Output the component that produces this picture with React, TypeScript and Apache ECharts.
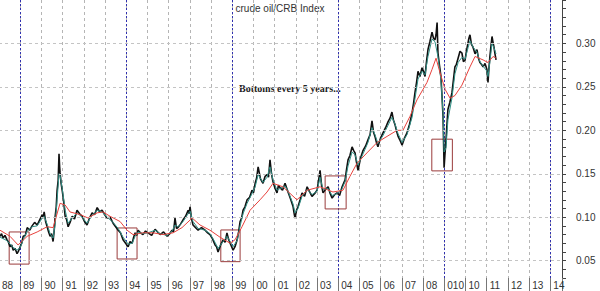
import React, { useEffect, useRef } from 'react';
import * as echarts from 'echarts';

const chartTitle = 'crude oil/CRB Index';
const annotation = 'Bottoms every 5 years...';

const yearTickLabels = [
  '88', '89', '90', '91', '92', '93', '94', '95', '96', '97', '98', '99', '00',
  '01', '02', '03', '04', '05', '06', '07', '08', '010', '10', '11', '12', '13', '14',
];
const cycleStartYear = 1984; // cycle lines every 5 years from here: 89, 94, 99, 04, 09, 14
const cycleStep = 5;
const gridValues = [0.05, 0.1, 0.15, 0.2, 0.25, 0.3];

const bottomBoxes = [
  [[1988.48, 0.083], [1989.42, 0.046]],
  [[1993.57, 0.0876], [1994.51, 0.0519]],
  [[1998.46, 0.0853], [1999.37, 0.0488]],
  [[2003.38, 0.1475], [2004.37, 0.1095]],
  [[2008.41, 0.1898], [2009.38, 0.1533]],
];

const ratioWeekly = [
  [1988.05, 0.078], [1988.12, 0.081], [1988.19, 0.076], [1988.28, 0.079], [1988.38, 0.074],
  [1988.45, 0.071], [1988.52, 0.066], [1988.6, 0.068], [1988.67, 0.062], [1988.76, 0.064],
  [1988.85, 0.058], [1988.92, 0.061], [1989.0, 0.066], [1989.07, 0.07], [1989.14, 0.078],
  [1989.24, 0.079], [1989.33, 0.088], [1989.45, 0.085], [1989.56, 0.09], [1989.68, 0.094],
  [1989.8, 0.091], [1989.92, 0.097], [1990.04, 0.103], [1990.08, 0.099], [1990.13, 0.106],
  [1990.2, 0.095], [1990.27, 0.089], [1990.34, 0.083], [1990.41, 0.078], [1990.48, 0.081],
  [1990.55, 0.072], [1990.6, 0.084], [1990.65, 0.101], [1990.7, 0.112], [1990.74, 0.131],
  [1990.79, 0.142], [1990.83, 0.173], [1990.86, 0.158], [1990.88, 0.151], [1990.93, 0.139],
  [1990.98, 0.131], [1991.05, 0.118], [1991.12, 0.101], [1991.19, 0.097], [1991.26, 0.089],
  [1991.35, 0.094], [1991.45, 0.101], [1991.56, 0.098], [1991.68, 0.108], [1991.8, 0.104],
  [1991.92, 0.101], [1992.03, 0.095], [1992.15, 0.091], [1992.27, 0.099], [1992.39, 0.105],
  [1992.51, 0.103], [1992.63, 0.111], [1992.75, 0.106], [1992.86, 0.108], [1992.98, 0.103],
  [1993.1, 0.099], [1993.24, 0.1], [1993.38, 0.093], [1993.5, 0.089], [1993.62, 0.085],
  [1993.73, 0.082], [1993.85, 0.074], [1993.97, 0.07], [1994.09, 0.066], [1994.18, 0.072],
  [1994.28, 0.07], [1994.35, 0.077], [1994.42, 0.082], [1994.49, 0.079], [1994.56, 0.085],
  [1994.67, 0.082], [1994.79, 0.08], [1994.91, 0.084], [1995.03, 0.082], [1995.2, 0.079],
  [1995.36, 0.086], [1995.48, 0.083], [1995.6, 0.08], [1995.76, 0.083], [1995.93, 0.078],
  [1996.05, 0.081], [1996.16, 0.085], [1996.23, 0.083], [1996.3, 0.099], [1996.37, 0.087],
  [1996.44, 0.088], [1996.56, 0.092], [1996.68, 0.097], [1996.8, 0.101], [1996.92, 0.108],
  [1996.96, 0.104], [1997.01, 0.112], [1997.08, 0.098], [1997.15, 0.091], [1997.27, 0.088],
  [1997.39, 0.085], [1997.55, 0.088], [1997.72, 0.085], [1997.84, 0.082], [1997.95, 0.08],
  [1998.07, 0.075], [1998.19, 0.068], [1998.26, 0.066], [1998.33, 0.06], [1998.45, 0.068],
  [1998.57, 0.074], [1998.66, 0.071], [1998.75, 0.082], [1998.82, 0.075], [1998.9, 0.07],
  [1998.97, 0.066], [1999.04, 0.062], [1999.13, 0.066], [1999.23, 0.074], [1999.3, 0.083],
  [1999.37, 0.095], [1999.44, 0.099], [1999.51, 0.108], [1999.6, 0.112], [1999.7, 0.12],
  [1999.82, 0.123], [1999.93, 0.131], [2000.0, 0.128], [2000.08, 0.139], [2000.15, 0.145],
  [2000.22, 0.158], [2000.33, 0.144], [2000.45, 0.139], [2000.55, 0.147], [2000.64, 0.149],
  [2000.71, 0.146], [2000.78, 0.166], [2000.85, 0.15], [2000.92, 0.141], [2001.02, 0.133],
  [2001.11, 0.128], [2001.18, 0.137], [2001.25, 0.134], [2001.37, 0.131], [2001.49, 0.139],
  [2001.56, 0.134], [2001.63, 0.129], [2001.75, 0.121], [2001.87, 0.112], [2001.92, 0.104],
  [2001.96, 0.099], [2002.03, 0.108], [2002.1, 0.112], [2002.2, 0.12], [2002.29, 0.128],
  [2002.41, 0.124], [2002.53, 0.135], [2002.65, 0.129], [2002.76, 0.124], [2002.88, 0.127],
  [2003.0, 0.131], [2003.07, 0.142], [2003.14, 0.154], [2003.21, 0.137], [2003.28, 0.128],
  [2003.4, 0.132], [2003.52, 0.135], [2003.62, 0.127], [2003.71, 0.122], [2003.83, 0.126],
  [2003.94, 0.128], [2004.06, 0.125], [2004.18, 0.135], [2004.25, 0.139], [2004.32, 0.143],
  [2004.39, 0.155], [2004.46, 0.166], [2004.55, 0.171], [2004.65, 0.181], [2004.72, 0.177],
  [2004.79, 0.174], [2004.86, 0.163], [2004.93, 0.154], [2005.05, 0.168], [2005.17, 0.177],
  [2005.29, 0.182], [2005.4, 0.189], [2005.5, 0.195], [2005.59, 0.211], [2005.66, 0.198],
  [2005.73, 0.193], [2005.8, 0.186], [2005.87, 0.181], [2005.99, 0.191], [2006.11, 0.197],
  [2006.23, 0.203], [2006.35, 0.21], [2006.44, 0.214], [2006.53, 0.221], [2006.6, 0.212],
  [2006.68, 0.206], [2006.75, 0.199], [2006.82, 0.193], [2006.92, 0.188], [2007.01, 0.183],
  [2007.12, 0.191], [2007.24, 0.197], [2007.36, 0.207], [2007.48, 0.22], [2007.55, 0.231],
  [2007.62, 0.244], [2007.69, 0.255], [2007.76, 0.268], [2007.85, 0.262], [2007.95, 0.272],
  [2008.02, 0.268], [2008.09, 0.262], [2008.16, 0.279], [2008.23, 0.293], [2008.32, 0.302],
  [2008.42, 0.313], [2008.49, 0.306], [2008.56, 0.304], [2008.61, 0.31], [2008.66, 0.324],
  [2008.7, 0.289], [2008.77, 0.275], [2008.84, 0.262], [2008.89, 0.24], [2008.94, 0.216],
  [2008.99, 0.157], [2009.03, 0.172], [2009.08, 0.189], [2009.12, 0.205], [2009.17, 0.224],
  [2009.26, 0.232], [2009.36, 0.243], [2009.43, 0.258], [2009.5, 0.273], [2009.57, 0.276],
  [2009.65, 0.283], [2009.74, 0.291], [2009.83, 0.289], [2009.9, 0.279], [2009.98, 0.281],
  [2010.05, 0.292], [2010.12, 0.301], [2010.16, 0.306], [2010.21, 0.31], [2010.28, 0.299],
  [2010.35, 0.296], [2010.45, 0.288], [2010.54, 0.293], [2010.61, 0.283], [2010.68, 0.278],
  [2010.75, 0.276], [2010.83, 0.273], [2010.92, 0.277], [2011.01, 0.27], [2011.06, 0.255],
  [2011.1, 0.27], [2011.15, 0.285], [2011.2, 0.297], [2011.25, 0.308], [2011.3, 0.301],
  [2011.34, 0.296], [2011.39, 0.288], [2011.44, 0.281],
];

const ratioShortAvg = [
  [1988.05, 0.077], [1988.38, 0.073], [1988.67, 0.065], [1988.85, 0.062], [1989.0, 0.065],
  [1989.14, 0.074], [1989.33, 0.084], [1989.56, 0.089], [1989.8, 0.09], [1990.04, 0.099],
  [1990.13, 0.101], [1990.27, 0.092], [1990.41, 0.081], [1990.55, 0.076], [1990.65, 0.092],
  [1990.74, 0.12], [1990.83, 0.15], [1990.88, 0.148], [1990.98, 0.133], [1991.12, 0.108],
  [1991.26, 0.093], [1991.45, 0.099], [1991.68, 0.105], [1991.92, 0.1], [1992.15, 0.093],
  [1992.39, 0.102], [1992.63, 0.108], [1992.86, 0.106], [1993.1, 0.1], [1993.38, 0.094],
  [1993.62, 0.087], [1993.85, 0.077], [1994.09, 0.069], [1994.28, 0.07], [1994.42, 0.078],
  [1994.56, 0.083], [1994.79, 0.081], [1995.03, 0.082], [1995.36, 0.085], [1995.6, 0.081],
  [1995.93, 0.079], [1996.16, 0.084], [1996.3, 0.091], [1996.44, 0.089], [1996.68, 0.095],
  [1996.92, 0.104], [1997.01, 0.107], [1997.15, 0.095], [1997.39, 0.087], [1997.72, 0.085],
  [1997.95, 0.081], [1998.19, 0.071], [1998.33, 0.064], [1998.57, 0.072], [1998.75, 0.078],
  [1998.9, 0.072], [1999.04, 0.066], [1999.23, 0.073], [1999.37, 0.09], [1999.51, 0.104],
  [1999.7, 0.116], [1999.93, 0.127], [2000.08, 0.135], [2000.22, 0.149], [2000.45, 0.14],
  [2000.64, 0.146], [2000.78, 0.158], [2000.92, 0.143], [2001.11, 0.131], [2001.25, 0.133],
  [2001.49, 0.136], [2001.63, 0.13], [2001.87, 0.115], [2001.96, 0.105], [2002.1, 0.11],
  [2002.29, 0.124], [2002.53, 0.132], [2002.76, 0.126], [2003.0, 0.13], [2003.14, 0.146],
  [2003.28, 0.132], [2003.52, 0.133], [2003.71, 0.125], [2003.94, 0.127], [2004.18, 0.133],
  [2004.32, 0.141], [2004.46, 0.159], [2004.65, 0.175], [2004.79, 0.172], [2004.93, 0.16],
  [2005.17, 0.173], [2005.4, 0.186], [2005.59, 0.203], [2005.73, 0.195], [2005.87, 0.185],
  [2006.11, 0.194], [2006.35, 0.206], [2006.53, 0.215], [2006.68, 0.207], [2006.82, 0.196],
  [2007.01, 0.186], [2007.24, 0.195], [2007.48, 0.215], [2007.62, 0.237], [2007.76, 0.259],
  [2007.95, 0.268], [2008.09, 0.264], [2008.23, 0.285], [2008.42, 0.305], [2008.56, 0.302],
  [2008.7, 0.285], [2008.84, 0.258], [2008.94, 0.22], [2008.99, 0.175], [2009.08, 0.18],
  [2009.17, 0.212], [2009.36, 0.237], [2009.5, 0.265], [2009.65, 0.278], [2009.83, 0.284],
  [2009.98, 0.282], [2010.12, 0.295], [2010.21, 0.303], [2010.35, 0.296], [2010.54, 0.29],
  [2010.68, 0.279], [2010.83, 0.274], [2011.01, 0.268], [2011.06, 0.262], [2011.15, 0.279],
  [2011.25, 0.3], [2011.34, 0.295], [2011.44, 0.288],
];

const ratioLongAvg = [
  [1988.05, 0.085], [1988.52, 0.078], [1988.9, 0.068], [1989.33, 0.078], [1989.8, 0.083],
  [1990.27, 0.089], [1990.55, 0.088], [1990.88, 0.116], [1991.12, 0.114], [1991.35, 0.106],
  [1991.83, 0.103], [1992.2, 0.099], [1992.63, 0.105], [1992.91, 0.106], [1993.24, 0.101],
  [1993.71, 0.095], [1994.04, 0.085], [1994.32, 0.08], [1994.79, 0.082], [1995.27, 0.082],
  [1995.74, 0.08], [1996.21, 0.082], [1996.63, 0.088], [1997.11, 0.099], [1997.48, 0.091],
  [1997.95, 0.085], [1998.42, 0.077], [1998.9, 0.07], [1999.13, 0.074], [1999.46, 0.089],
  [1999.84, 0.108], [2000.31, 0.12], [2000.64, 0.129], [2000.92, 0.139], [2001.39, 0.135],
  [2002.05, 0.12], [2002.53, 0.131], [2003.14, 0.135], [2003.75, 0.129], [2004.22, 0.131],
  [2004.55, 0.147], [2004.88, 0.162], [2005.35, 0.174], [2005.83, 0.186], [2006.3, 0.193],
  [2006.77, 0.2], [2007.05, 0.2], [2007.38, 0.216], [2007.71, 0.235], [2008.18, 0.255],
  [2008.42, 0.27], [2008.61, 0.283], [2008.8, 0.266], [2009.04, 0.247], [2009.27, 0.237],
  [2009.5, 0.24], [2009.83, 0.252], [2010.21, 0.273], [2010.45, 0.285], [2010.83, 0.281],
  [2011.06, 0.278], [2011.3, 0.285], [2011.44, 0.283],
];

const X_MIN = 1988;
const X_MAX = 2014.55;
const GRID_LEFT = -1;
const GRID_RIGHT = 38;
const CHART_W = 600;

export default function App() {
  const ref = useRef<HTMLDivElement>(null);

  useEffect(() => {
    if (!ref.current) return;
    const chart = echarts.init(ref.current, undefined, { renderer: 'svg' });
    const labelFont = { color: '#333', fontSize: 10, fontFamily: '"Liberation Sans", Arial, sans-serif' };
    const pxPerYear = (CHART_W - GRID_RIGHT - GRID_LEFT) / (X_MAX - X_MIN);
    const cycleGridLeft = GRID_LEFT - (X_MIN - cycleStartYear) * pxPerYear;

    chart.setOption({
      animation: false,
      backgroundColor: '#fff',
      grid: [
        {
          left: GRID_LEFT, right: GRID_RIGHT, top: 0, bottom: 13,
          containLabel: false, outerBoundsMode: 'none',
        },
        {
          left: cycleGridLeft, right: GRID_RIGHT, top: 0, bottom: 13,
          containLabel: false, outerBoundsMode: 'none',
        },
      ],
      xAxis: [
        {
          type: 'value',
          min: X_MIN,
          max: X_MAX,
          interval: 1,
          axisLine: { show: false },
          axisTick: { show: true, length: 13, lineStyle: { color: '#777' } },
          axisLabel: {
            ...labelFont,
            formatter: (v: number) => yearTickLabels[Math.round(v - 1988)] ?? '',
            align: 'left',
            padding: [0, 0, 0, 3],
            margin: 2,
          },
          splitLine: { show: true, lineStyle: { color: '#b5b5b5', type: [3, 3], width: 1 } },
        },
        {
          gridIndex: 1,
          type: 'value',
          min: cycleStartYear,
          max: X_MAX,
          interval: cycleStep,
          axisLine: { show: false },
          axisTick: { show: false },
          axisLabel: { show: false },
          splitLine: { show: true, lineStyle: { color: '#3030b0', type: [2, 2], width: 1 } },
        },
      ],
      yAxis: [
        {
          type: 'value',
          position: 'right',
          min: 0.03,
          max: 0.35,
          interval: 0.01,
          axisLine: { show: true, lineStyle: { color: '#444' } },
          axisTick: { show: true, length: 4, lineStyle: { color: '#444' } },
          axisLabel: {
            ...labelFont,
            margin: 14,
            formatter: (v: number) => {
              const c = Math.round(v * 100);
              return c % 5 === 0 && c >= 5 && c <= 30 ? (c / 100).toFixed(2) : '';
            },
          },
          splitLine: { show: false },
        },
        {
          gridIndex: 1,
          type: 'value',
          min: 0,
          max: 1,
          show: false,
        },
      ],
      graphic: [
        {
          type: 'text',
          x: 280,
          y: 8,
          style: {
            text: chartTitle,
            font: '10px "Liberation Sans", Arial, sans-serif',
            fill: '#333',
            align: 'center',
            verticalAlign: 'middle',
          },
        },
        {
          type: 'text',
          x: 239,
          y: 88,
          style: {
            text: annotation,
            font: 'bold 10px "Liberation Serif", "Times New Roman", serif',
            fill: '#222',
            align: 'left',
            verticalAlign: 'middle',
          },
        },
      ],
      series: [
        {
          type: 'line',
          data: [],
          silent: true,
          z: 1,
          markLine: {
            silent: true,
            symbol: ['none', 'none'],
            label: { show: false },
            lineStyle: { color: '#c4c4c4', type: [3, 3], width: 1 },
            data: gridValues.map((v) => ({ yAxis: v })),
          },
        },
        {
          type: 'line',
          data: ratioWeekly,
          showSymbol: false,
          silent: true,
          z: 2,
          lineStyle: { color: '#111', width: 1.6 },
        },
        {
          type: 'line',
          data: ratioShortAvg,
          showSymbol: false,
          silent: true,
          z: 3,
          lineStyle: { color: '#2f8f85', width: 1 },
        },
        {
          type: 'line',
          data: ratioLongAvg,
          showSymbol: false,
          silent: true,
          z: 4,
          lineStyle: { color: '#e8413c', width: 1 },
          markArea: {
            silent: true,
            itemStyle: { color: 'rgba(0,0,0,0)', borderColor: '#9a3b3b', borderWidth: 1 },
            data: bottomBoxes.map(([a, b]) => [{ coord: a }, { coord: b }]),
          },
        },
      ],
    });

    return () => chart.dispose();
  }, []);

  return (
    <div
      ref={ref}
      style={{ position: 'fixed', left: 0, top: 0, width: 600, height: 291, background: '#fff' }}
    />
  );
}
